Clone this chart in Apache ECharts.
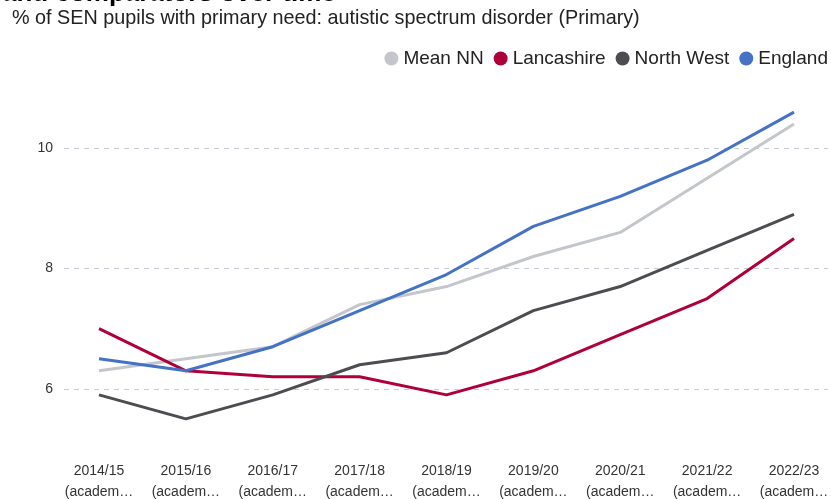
<!DOCTYPE html>
<html>
<head>
<meta charset="utf-8">
<script src="https://cdn.jsdelivr.net/npm/echarts@6/dist/echarts.min.js"></script>
<style>
  html, body { margin: 0; padding: 0; background: #fff; }
  #chart { width: 831px; height: 499px; }
</style>
</head>
<body>
<div id="chart"></div>
<script>
// Academic years shown along the x axis
const years = [
  '2014/15 (academic year)', '2015/16 (academic year)', '2016/17 (academic year)',
  '2017/18 (academic year)', '2018/19 (academic year)', '2019/20 (academic year)',
  '2020/21 (academic year)', '2021/22 (academic year)', '2022/23 (academic year)'
];

// % of SEN pupils whose primary need is autistic spectrum disorder
const meanNN     = [6.3, 6.5, 6.7, 7.4, 7.7, 8.2, 8.6, 9.5, 10.4];
const lancashire = [7.0, 6.3, 6.2, 6.2, 5.9, 6.3, 6.9, 7.5, 8.5];
const northWest  = [5.9, 5.5, 5.9, 6.4, 6.6, 7.3, 7.7, 8.3, 8.9];
const england    = [6.5, 6.3, 6.7, 7.3, 7.9, 8.7, 9.2, 9.8, 10.6];

// Labelled y ticks
const yTicks = [6, 8, 10];

const seriesDefs = [
  { name: 'Mean NN',    data: meanNN,     color: '#c3c6ca' },
  { name: 'Lancashire', data: lancashire, color: '#b0003c' },
  { name: 'North West', data: northWest,  color: '#4b4d50' },
  { name: 'England',    data: england,    color: '#4472c4' }
];

const FONT = 'Arial, "Liberation Sans", sans-serif';
const chart = echarts.init(document.getElementById('chart'), null, { renderer: 'canvas' });

chart.setOption({
  animation: false,
  backgroundColor: '#fff',
  title: [
    {
      text: 'and comparators over time',
      left: -3, top: -24,
      textStyle: { fontFamily: FONT, fontSize: 26, fontWeight: 'bold', color: '#000' }
    },
    {
      text: '% of SEN pupils with primary need: autistic spectrum disorder (Primary)',
      left: 7, top: 4,
      textStyle: { fontFamily: FONT, fontSize: 19.8, fontWeight: 'normal', color: '#222' }
    }
  ],
  legend: {
    right: 3, top: 49,
    padding: 0,
    icon: 'circle',
    itemWidth: 14, itemHeight: 14,
    itemGap: 10,
    textStyle: { fontFamily: FONT, fontSize: 19, color: '#222' },
    data: seriesDefs.map(s => s.name)
  },
  grid: [
    // background grid carrying the dashed value lines
    { left: 64, right: 3, top: 88, bottom: 50, outerBoundsMode: 'none' },
    // plotting grid
    { left: 99, right: 37, top: 88, bottom: 50, outerBoundsMode: 'none' }
  ],
  xAxis: [
    { gridIndex: 0, type: 'value', min: 0, max: 1, show: false },
    {
      gridIndex: 1, type: 'category', data: years, boundaryGap: false,
      axisLine: { show: false }, axisTick: { show: false },
      axisLabel: {
        interval: 0, margin: 12,
        fontFamily: FONT, fontSize: 14, color: '#333', lineHeight: 21,
        width: 70, overflow: 'truncate', ellipsis: '…',
        formatter: v => v.replace(' ', '\n')
      }
    }
  ],
  yAxis: [
    {
      gridIndex: 0, type: 'value', min: 5, max: 11,
      axisLine: { show: false },
      axisTick: { show: false, customValues: yTicks },
      axisLabel: { customValues: yTicks, fontFamily: FONT, fontSize: 14, color: '#333', margin: 11 },
      splitLine: { show: true, lineStyle: { color: '#c8ccd2', type: [5, 5], width: 1 } }
    },
    { gridIndex: 1, type: 'value', min: 5, max: 11, show: false, splitLine: { show: false } }
  ],
  series: seriesDefs.map(s => ({
    name: s.name,
    type: 'line',
    xAxisIndex: 1, yAxisIndex: 1,
    data: s.data,
    showSymbol: false,
    symbol: 'circle',
    color: s.color,
    lineStyle: { color: s.color, width: 3 },
    itemStyle: { color: s.color }
  }))
});
</script>
</body>
</html>
